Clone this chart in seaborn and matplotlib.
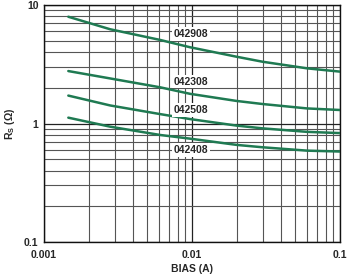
import numpy as np
import pandas as pd
import matplotlib
matplotlib.use("Agg")
import matplotlib.pyplot as plt
import seaborn as sns
from matplotlib.ticker import LogLocator, NullFormatter, FixedLocator, FixedFormatter

# Data
bias = [0.00146, 0.0028, 0.0061, 0.0097, 0.02, 0.03, 0.06, 0.1]
rs_042908 = [7.96, 6.24, 5.07, 4.40, 3.66, 3.32, 2.92, 2.74]
rs_042308 = [2.77, 2.40, 2.02, 1.78, 1.55, 1.46, 1.34, 1.30]
rs_042508 = [1.72, 1.42, 1.20, 1.09, 0.96, 0.91, 0.85, 0.83]
rs_042408 = [1.12, 0.94, 0.80, 0.745, 0.66, 0.63, 0.59, 0.58]
series_names = ["042908", "042308", "042508", "042408"]
label_x = [0.0099, 0.0099, 0.0099, 0.0099]
label_y = [5.69, 2.25, 1.30, 0.597]
xticks = [0.001, 0.01, 0.1]
xticklabels = ["0.001", "0.01", "0.1"]
yticks = [0.1, 1, 10]
yticklabels = ["0.1", "1", "10"]

df = pd.concat([
    pd.DataFrame({"bias": bias, "rs": vals, "part": name})
    for name, vals in zip(series_names, [rs_042908, rs_042308, rs_042508, rs_042408])
])

sns.set_style("white")
plt.rcParams["font.family"] = ["Liberation Sans", "DejaVu Sans"]

fig = plt.figure(figsize=(3.48, 2.77), dpi=100)
ax = fig.add_axes([44/348, 1-242/277, 296/348, 237/277])

green = "#1f7a52"
sns.lineplot(data=df, x="bias", y="rs", hue="part", palette=[green]*4,
             legend=False, ax=ax, linewidth=1.8, zorder=3)

ax.set_xscale("log")
ax.set_yscale("log")
ax.set_xlim(0.001, 0.1)
ax.set_ylim(0.1, 10)

ax.xaxis.set_major_locator(FixedLocator(xticks))
ax.xaxis.set_major_formatter(FixedFormatter(xticklabels))
ax.yaxis.set_major_locator(FixedLocator(yticks))
ax.yaxis.set_major_formatter(FixedFormatter(yticklabels))
ax.xaxis.set_minor_locator(LogLocator(base=10, subs=np.arange(2, 10)))
ax.yaxis.set_minor_locator(LogLocator(base=10, subs=np.arange(2, 10)))
ax.xaxis.set_minor_formatter(NullFormatter())
ax.yaxis.set_minor_formatter(NullFormatter())

ax.grid(True, which="major", color="#222222", linewidth=0.9, zorder=1)
ax.grid(True, which="minor", color="#555555", linewidth=0.8, zorder=1)
ax.set_axisbelow(True)
ax.tick_params(which="both", length=0, labelsize=7.5)
ax.tick_params(axis="x", pad=6)
ax.tick_params(axis="y", pad=4)
for lab in ax.get_xticklabels() + ax.get_yticklabels():
    lab.set_fontweight("bold")

for sp in ax.spines.values():
    sp.set_color("#111111")
    sp.set_linewidth(1.0)

for name, lx, ly in zip(series_names, label_x, label_y):
    ax.text(lx, ly, name, ha="center", va="center", fontsize=7.5, fontweight="bold",
            zorder=5, bbox=dict(facecolor="white", edgecolor="none", pad=1.2))

ax.set_xlabel("BIAS (A)", fontsize=7.5, fontweight="bold", labelpad=3)
ax.set_ylabel(r"R$_\mathregular{S}$ ($\mathregular{\Omega}$)", fontsize=7.5, fontweight="bold", labelpad=5)

fig.savefig("out.png", dpi=100)
